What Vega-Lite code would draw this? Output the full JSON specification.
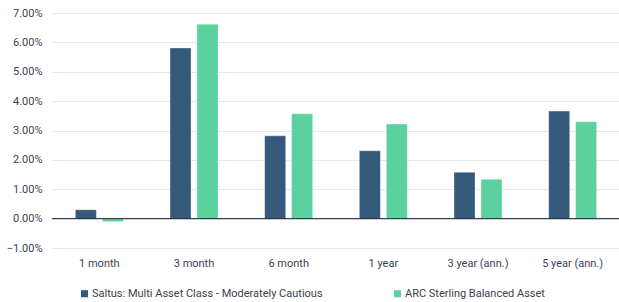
{
  "$schema": "https://vega.github.io/schema/vega-lite/v6.json",
  "width": 568,
  "height": 235,
  "autosize": {"type": "none"},
  "padding": {"left": 52, "top": 13, "right": 0, "bottom": 54},
  "config": {
    "font": "Roboto",
    "view": {"stroke": null},
    "axis": {"labelFont": "Roboto", "labelFontSize": 11, "labelColor": "#3a3f4f"},
    "legend": {"labelFont": "Roboto", "labelFontSize": 11, "labelColor": "#3a3f4f"}
  },
  "data": {
    "values": [
      {"period": "1 month", "series": "Saltus: Multi Asset Class - Moderately Cautious", "value": 0.30},
      {"period": "1 month", "series": "ARC Sterling Balanced Asset", "value": -0.10},
      {"period": "3 month", "series": "Saltus: Multi Asset Class - Moderately Cautious", "value": 5.81},
      {"period": "3 month", "series": "ARC Sterling Balanced Asset", "value": 6.62},
      {"period": "6 month", "series": "Saltus: Multi Asset Class - Moderately Cautious", "value": 2.82},
      {"period": "6 month", "series": "ARC Sterling Balanced Asset", "value": 3.57},
      {"period": "1 year", "series": "Saltus: Multi Asset Class - Moderately Cautious", "value": 2.31},
      {"period": "1 year", "series": "ARC Sterling Balanced Asset", "value": 3.22},
      {"period": "3 year (ann.)", "series": "Saltus: Multi Asset Class - Moderately Cautious", "value": 1.58},
      {"period": "3 year (ann.)", "series": "ARC Sterling Balanced Asset", "value": 1.34},
      {"period": "5 year (ann.)", "series": "Saltus: Multi Asset Class - Moderately Cautious", "value": 3.66},
      {"period": "5 year (ann.)", "series": "ARC Sterling Balanced Asset", "value": 3.30}
    ]
  },
  "layer": [
    {
      "mark": {"type": "bar", "stroke": "#ffffff", "strokeOpacity": 0.5, "strokeWidth": 0.7},
      "encoding": {
        "x": {
          "field": "period", "type": "nominal", "sort": null,
          "scale": {"paddingInner": 0.493, "paddingOuter": 0.2465},
          "axis": {"title": null, "labelAngle": 0, "domain": false, "ticks": false, "labelPadding": 9, "grid": false}
        },
        "xOffset": {
          "field": "series", "type": "nominal", "sort": null,
          "scale": {"paddingInner": 0.22, "paddingOuter": 0}
        },
        "y": {
          "field": "value", "type": "quantitative",
          "scale": {"domain": [-1, 7], "nice": false},
          "axis": {
            "title": null, "values": [-1, 0, 1, 2, 3, 4, 5, 6, 7], "tickCount": 20,
            "labelExpr": "format(datum.value, '.2f') + '%'",
            "labelOverlap": false,
            "domain": false, "ticks": false, "labelPadding": 10,
            "gridColor": "#e1e9f3", "gridWidth": 1
          }
        },
        "color": {
          "field": "series", "type": "nominal", "sort": null,
          "scale": {"range": ["#34597a", "#5ad19e"]},
          "legend": {
            "title": null, "orient": "none", "direction": "horizontal",
            "legendX": 27, "legendY": 275,
            "symbolType": "square", "symbolSize": 50, "symbolStrokeWidth": 0,
            "columnPadding": 69, "labelOffset": 2, "labelLimit": 0
          }
        }
      }
    },
    {
      "data": {"values": [{"zero": 0}]},
      "mark": {"type": "rule", "color": "#1f2430", "strokeWidth": 1},
      "encoding": {"y": {"field": "zero", "type": "quantitative"}}
    }
  ]
}
